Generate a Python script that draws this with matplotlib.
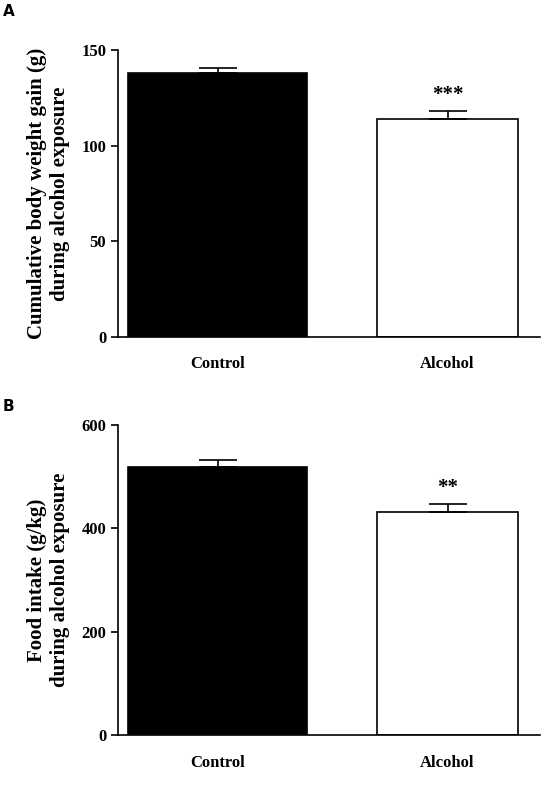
import matplotlib.pyplot as plt

groups = ['Control', 'Alcohol']
gain = [138, 114]
gain_err = [3, 4.5]
food = [519, 432]
food_err = [14, 15]
stars_a = '***'
stars_b = '**'

plt.rcParams['font.family'] = 'Liberation Serif'
plt.rcParams['font.weight'] = 'bold'

fig = plt.figure(figsize=(5.59, 7.87), dpi=100)
pos = [0.236, 0.781]
widths = [0.424, 0.334]

def panel(rect, vals, errs, ylim, yticks, ylabel, stars, letter, letter_y):
    ax = fig.add_axes(rect)
    ax.bar(pos, vals, width=widths, color=['black', 'white'], edgecolor='black', linewidth=1.2)
    for p, v, e in zip(pos, vals, errs):
        ax.errorbar(p, v, yerr=[[0], [e]], color='black', capsize=14, capthick=1.2, elinewidth=1.2)
    ax.text(pos[1], vals[1] + errs[1] + ylim * 0.02, stars, ha='center', va='bottom', fontsize=15, fontweight='bold')
    ax.set_xlim(0, 1)
    ax.set_ylim(0, ylim)
    ax.set_yticks(yticks)
    ax.set_xticks(pos)
    ax.set_xticklabels(groups, fontsize=12, fontweight='bold')
    ax.tick_params(axis='x', length=0, pad=14)
    ax.tick_params(axis='y', labelsize=12, width=1.2, length=5)
    for s in ['top', 'right']:
        ax.spines[s].set_visible(False)
    for s in ['left', 'bottom']:
        ax.spines[s].set_linewidth(1.2)
    ax.set_ylabel(ylabel, fontsize=15, fontweight='bold', labelpad=8)
    fig.text(0.005, letter_y, letter, fontsize=11, fontweight='bold', family='DejaVu Sans', va='center')
    return ax

panel([0.211, 0.572, 0.755, 0.364], gain, gain_err, 150, [0, 50, 100, 150],
      'Cumulative body weight gain (g)\nduring alcohol exposure', stars_a, 'A', 1 - 12 / 787)
panel([0.211, 0.066, 0.755, 0.394], food, food_err, 600, [0, 200, 400, 600],
      'Food intake (g/kg)\nduring alcohol exposure', stars_b, 'B', 1 - 406 / 787)

fig.savefig('out.png', dpi=100)
